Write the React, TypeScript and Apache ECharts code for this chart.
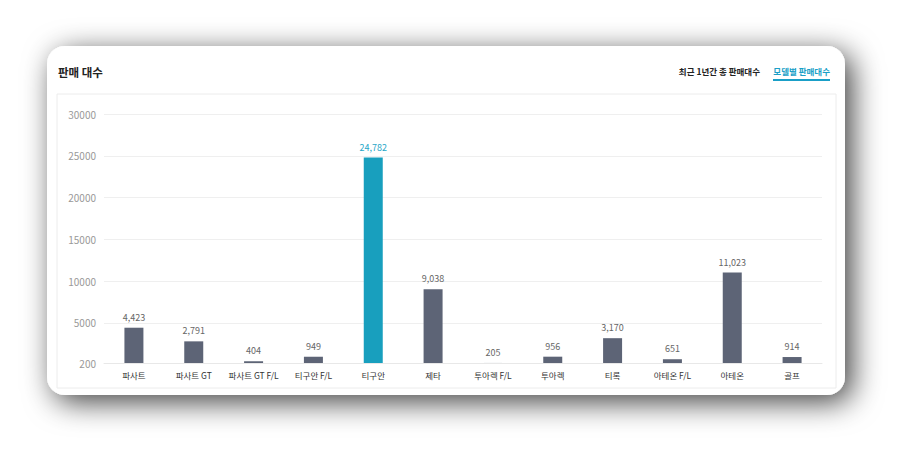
import React, { useEffect, useRef } from "react";
import * as echarts from "echarts";

const categories = ["파사트", "파사트 GT", "파사트 GT F/L", "티구안 F/L", "티구안", "제타", "투아렉 F/L", "투아렉", "티록", "아테온 F/L", "아테온", "골프"];
const sales = [4423, 2791, 404, 949, 24782, 9038, 205, 956, 3170, 651, 11023, 914];
const highlightIndex = 4;
const titleText = "판매 대수";
const tabs = ["최근 1년간 총 판매대수", "모델별 판매대수"];

const FONT = "'Noto Sans CJK KR', 'Noto Sans', sans-serif";

export default function App() {
  const ref = useRef<HTMLDivElement>(null);
  useEffect(() => {
    if (!ref.current) return;
    const chart = echarts.init(ref.current, undefined, { renderer: "svg" });
    chart.setOption({
      animation: false,
      textStyle: { fontFamily: FONT },
      graphic: [
        {
          type: "rect",
          z: -10,
          silent: true,
          shape: { x: 47, y: 46, width: 798, height: 349, r: 18 },
          style: {
            fill: "#ffffff",
            shadowBlur: 30,
            shadowColor: "rgba(0,0,0,0.75)",
            shadowOffsetX: 7,
            shadowOffsetY: 7,
          },
        },
        {
          type: "rect",
          z: -9,
          silent: true,
          shape: { x: 57, y: 94, width: 779, height: 294 },
          style: { fill: "#ffffff", stroke: "#ececec", lineWidth: 1 },
        },
        {
          type: "text",
          x: 58,
          y: 72,
          style: {
            text: titleText,
            fontSize: 11.5,
            fontWeight: "bold",
            fill: "#222222",
            fontFamily: FONT,
            verticalAlign: "middle",
          },
        },
        {
          type: "text",
          x: 760,
          y: 71,
          style: {
            text: tabs[0],
            fontSize: 8.5,
            fontWeight: "bold",
            fill: "#222222",
            fontFamily: FONT,
            align: "right",
            verticalAlign: "middle",
          },
        },
        {
          type: "text",
          x: 830,
          y: 71,
          style: {
            text: tabs[1],
            fontSize: 8.5,
            fontWeight: "bold",
            fill: "#1a9fc7",
            fontFamily: FONT,
            align: "right",
            verticalAlign: "middle",
          },
        },
        {
          type: "line",
          shape: { x1: 773, y1: 80, x2: 830, y2: 80 },
          style: { stroke: "#1a9fc7", lineWidth: 2 },
        },
      ],
      grid: { left: 104, right: 82, top: 114, bottom: 91, containLabel: false },
      xAxis: {
        type: "category",
        data: categories,
        axisLine: { show: true, lineStyle: { color: "#e8e8e8" } },
        axisTick: { show: false },
        axisLabel: { color: "#333333", fontSize: 8.5, margin: 8, interval: 0, fontFamily: FONT },
      },
      yAxis: {
        type: "value",
        min: 200,
        max: 30000,
        splitNumber: 5,
        axisLine: { show: false },
        axisTick: { show: false },
        splitLine: { lineStyle: { color: "#efefef" } },
        axisLabel: {
          color: "#999999",
          fontSize: 10,
          margin: 8,
          fontFamily: FONT,
          formatter: (v: number) => String(v),
        },
      },
      series: [
        {
          type: "bar",
          barWidth: 19,
          data: sales.map((v, i) => ({
            value: v,
            itemStyle: { color: i === highlightIndex ? "#189fbe" : "#5d6476" },
            label: { color: i === highlightIndex ? "#27a7c8" : "#666666" },
          })),
          label: {
            show: true,
            position: "top",
            distance: 6,
            fontSize: 9,
            fontFamily: FONT,
            formatter: (p: any) => Number(p.value).toLocaleString("en-US"),
          },
        },
      ],
    });
    return () => chart.dispose();
  }, []);
  return (
    <div
      ref={ref}
      style={{ position: "fixed", left: 0, top: 0, width: 904, height: 454, background: "#ffffff" }}
    />
  );
}
